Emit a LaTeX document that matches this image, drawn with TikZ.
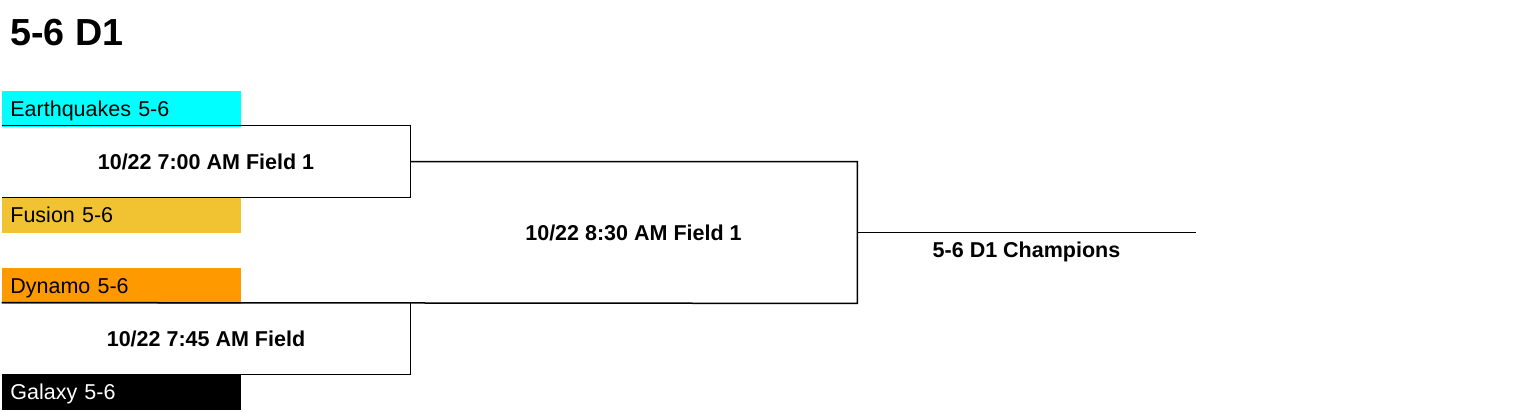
\documentclass[tikz,border=0pt]{standalone}
\usepackage{fontspec}
\setmainfont{Liberation Sans}
\usetikzlibrary{positioning}

\definecolor{quakecyan}{HTML}{00FFFF}
\definecolor{fusiongold}{HTML}{F1C232}
\definecolor{dynamoorange}{HTML}{FF9900}

\begin{document}
\begin{tikzpicture}[x=0.5pt,y=0.5pt,yscale=-1,xscale=1,
  team/.style={anchor=north west, inner xsep=4pt, inner ysep=0pt,
    minimum height=17.75pt, text width=111.5pt, align=left,
    text depth=0pt, font=\fontsize{10.75}{12}\selectfont},
  game/.style={inner sep=0pt, font=\fontsize{10.75}{12}\selectfont\bfseries},
  bracket/.style={line width=0.75pt, black}]

\useasboundingbox (0,0) rectangle (1536,412);

%%%%%%%%%%%%%%%%%%%%%%%%%%%%%%%%%%%%%%%%%%%%%%%%%%%%%%%%%%%%%%%%%%%%%%%%

\node [anchor=base west, inner sep=0pt, font=\fontsize{18.85}{22}\selectfont\bfseries] (title) at (10, 45) {5-6 D1};

\node [team, fill=quakecyan] (quakes) at (2, 91) {Earthquakes 5-6};
\node [team, fill=fusiongold] (fusion) at (2, 197) {Fusion 5-6};
\node [team, fill=dynamoorange] (dynamo) at (2, 268) {Dynamo 5-6};
\node [team, fill=black, text=white] (galaxy) at (2, 374) {Galaxy 5-6};

%%%%%%%%%%%%%%%%%%%%%%%%%%%%%%%%%%%%%%%%%%%%%%%%%%%%%%%%%%%%%%%%%%%%%%%%

\node [game, minimum width=204pt, minimum height=35.5pt] (gameA) at (206, 161.5) {10/22 7:00 AM Field 1};
\draw [bracket] (gameA.north west) -- (gameA.north east) -- (gameA.south east) -- (gameA.south west);

\node [game, minimum width=204pt, minimum height=35.5pt] (gameB) at (206, 338.5) {10/22 7:45 AM Field};
\draw [bracket] (gameB.north east) -- (gameB.south east) -- (gameB.south west);

%%%%%%%%%%%%%%%%%%%%%%%%%%%%%%%%%%%%%%%%%%%%%%%%%%%%%%%%%%%%%%%%%%%%%%%%

\node [game, minimum width=223.5pt, minimum height=70.5pt] (final) at (633.5, 232.5) {10/22 8:30 AM Field 1};
\draw [bracket] (gameA.east) -- (final.north east) -- (final.south east) -- (gameB.north west);

\coordinate (champEnd) at (1196, 232.5);
\draw [bracket] (final.east) -- (champEnd);
\node [game] (champ) at (1026.5, 252) {5-6 D1 Champions};

%%%%%%%%%%%%%%%%%%%%%%%%%%%%%%%%%%%%%%%%%%%%%%%%%%%%%%%%%%%%%%%%%%%%%%%%

\end{tikzpicture}
\end{document}
